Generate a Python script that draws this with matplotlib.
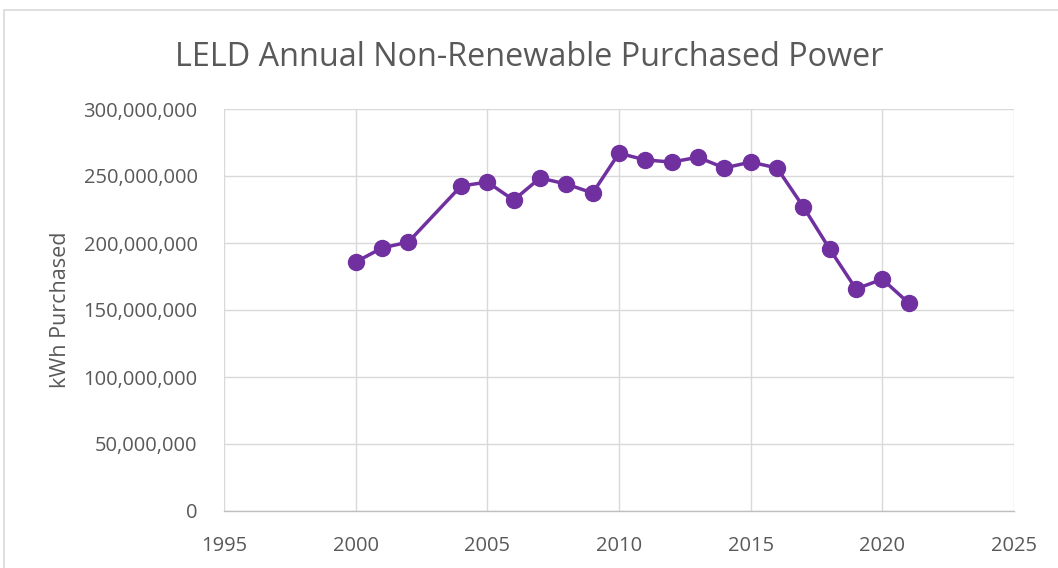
import matplotlib.pyplot as plt
from matplotlib.patches import Rectangle
from matplotlib.ticker import FuncFormatter

years = [2000, 2001, 2002, 2004, 2005, 2006, 2007, 2008, 2009, 2010,
         2011, 2012, 2013, 2014, 2015, 2016, 2017, 2018, 2019, 2020, 2021]
kwh = [185.8e6, 196.3e6, 200.7e6, 242.5e6, 245.5e6, 232.0e6, 248.5e6, 244.0e6,
       237.3e6, 267.0e6, 262.0e6, 260.4e6, 264.0e6, 256.0e6, 260.4e6, 256.0e6,
       227.0e6, 195.5e6, 165.7e6, 173.0e6, 155.2e6]

plt.rcParams['font.family'] = ['Open Sans', 'DejaVu Sans']
txt = '#595959'
grid = '#D9D9D9'
purple = '#7030A0'

fig = plt.figure(figsize=(10.58, 5.68), dpi=100)
ax = fig.add_axes([224 / 1058, 1 - 511 / 568, 790 / 1058, 402 / 568])

# chart border (cropped on right / bottom)
fig.patches.append(Rectangle((4 / 1058, -0.1), 1.2, 1 - 10 / 568 + 0.1,
                             transform=fig.transFigure, fill=False,
                             edgecolor='#D9D9D9', linewidth=1.2))

ax.plot(years, kwh, color=purple, linewidth=2.5, marker='o', markersize=11.5,
        zorder=3)

ax.set_xlim(1995, 2025)
ax.set_ylim(0, 300e6)
ax.set_xticks(range(1995, 2026, 5))
ax.set_yticks(range(0, 300000001, 50000000))
ax.yaxis.set_major_formatter(FuncFormatter(lambda v, p: f'{int(v):,}'))
ax.grid(True, color=grid, linewidth=1.0)
ax.set_axisbelow(True)
for s in ['top', 'right', 'left']:
    ax.spines[s].set_visible(False)
ax.spines['bottom'].set_color('#BFBFBF')
ax.spines['bottom'].set_linewidth(1.0)
ax.tick_params(length=0, labelsize=14.5, colors=txt)
ax.tick_params(axis='y', pad=19)
ax.tick_params(axis='x', pad=18)

ax.set_ylabel('kWh Purchased', fontsize=15.5, color=txt, labelpad=9)
fig.text(0.5, 1 - 57 / 568, 'LELD Annual Non-Renewable Purchased Power',
         ha='center', va='center', fontsize=23.3, color=txt)

fig.savefig('out.png', dpi=100)
